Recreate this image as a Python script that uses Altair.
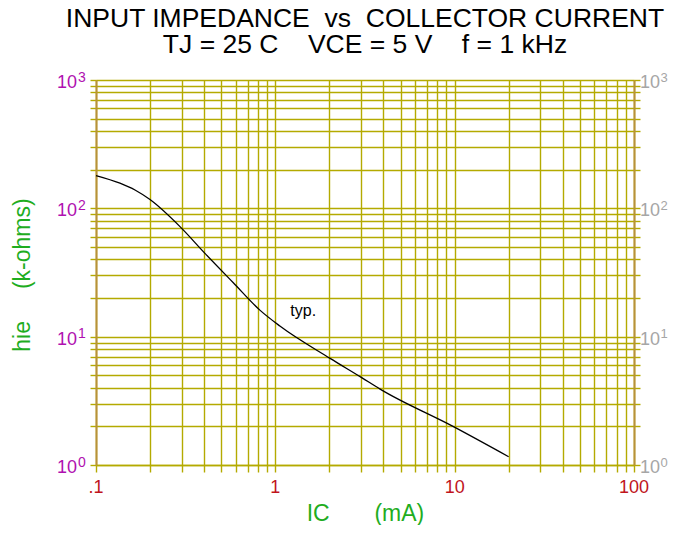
import altair as alt
import pandas as pd

# ---- data ----
ic_ma = [0.1, 0.136, 0.165, 0.2, 0.294, 0.405, 0.583, 0.82, 1.06, 2.02, 3.03, 3.84, 9.85, 20]
hie_kohm = [180, 157, 139, 117, 72, 44.6, 26.3, 16.1, 12.1, 6.78, 4.8, 3.9, 1.99, 1.16]

x_tick_values = [0.1, 1, 10, 100]
x_tick_labels = [".1", "1", "10", "100"]
y_tick_values = [1, 10, 100, 1000]
y_tick_base = ["10", "10", "10", "10"]
y_tick_exp = ["0", "1", "2", "3"]

x_grid = [m * 10.0 ** e for e in (-1, 0, 1) for m in range(1, 10)] + [100]
y_grid = [m * 10.0 ** e for e in (0, 1, 2) for m in range(1, 10)] + [1000]

annot_x = [1.43]
annot_y = [15.9]
annot_text = ["typ."]

FONT = "Liberation Sans"
OLIVE = "#b4aa00"
BROWN = "#b8913a"
NB = "\u00a0"

W, H = 538, 385

curve = pd.DataFrame({"ic": ic_ma, "hie": hie_kohm})
xlab = pd.DataFrame({"x": x_tick_values, "t": x_tick_labels})
ylab = pd.DataFrame({"y": y_tick_values, "b": y_tick_base, "e": y_tick_exp})
ann = pd.DataFrame({"x": annot_x, "y": annot_y, "t": annot_text})

xscale = alt.Scale(type="log", domain=[0.1, 100], nice=False)
yscale = alt.Scale(type="log", domain=[1, 1000], nice=False)

x_axis = alt.Axis(
    values=x_grid, labels=False, grid=True, gridColor=OLIVE, gridWidth=1.4, gridOpacity=1,
    ticks=True, tickColor=OLIVE, tickSize=7, tickWidth=1.4,
    domainColor=OLIVE, domainWidth=1.5,
    title="IC" + NB * 7 + "(mA)", titleColor="#1fad1f", titleFont=FONT, titleFontSize=23,
    titleFontWeight="normal", titleX=W / 2, titleY=55, titleBaseline="alphabetic", titleAlign="center",
)
y_axis_left = alt.Axis(
    values=y_grid, labels=False, grid=True, gridColor=OLIVE, gridWidth=1.4, gridOpacity=1,
    ticks=True, tickColor=OLIVE, tickSize=6, tickWidth=1.4,
    domainColor=BROWN, domainWidth=2,
    title="hie" + NB * 5 + "(k-ohms)", titleColor="#1fad1f", titleFont=FONT, titleFontSize=23,
    titleFontWeight="normal", titleX=-67, titleY=H / 2 + 2, titleAngle=270,
    titleBaseline="alphabetic", titleAlign="center",
)
y_axis_right = alt.Axis(
    orient="right", values=y_grid, labels=False, grid=False,
    ticks=True, tickColor=OLIVE, tickSize=6, tickWidth=1.4,
    domainColor=BROWN, domainWidth=2, title=None,
)

line = alt.Chart(curve).mark_line(color="black", strokeWidth=1.3, interpolate="monotone").encode(
    x=alt.X("ic:Q", scale=xscale, axis=x_axis),
    y=alt.Y("hie:Q", scale=yscale, axis=y_axis_left),
)

right_base = alt.Chart(ylab).mark_text(
    font=FONT, fontSize=18, color="#a6a6a6", align="left", baseline="alphabetic", dy=8
).encode(
    x=alt.value(W + 6),
    y=alt.Y("y:Q", scale=yscale, axis=y_axis_right),
    text="b:N",
)
right_exp = alt.Chart(ylab).mark_text(
    font=FONT, fontSize=13, color="#a6a6a6", align="left", baseline="alphabetic", dy=1.5
).encode(
    x=alt.value(W + 26.5),
    y=alt.Y("y:Q", scale=yscale, axis=None),
    text="e:N",
)
left_base = alt.Chart(ylab).mark_text(
    font=FONT, fontSize=18, color="#b010b0", align="right", baseline="alphabetic", dy=8
).encode(
    x=alt.value(-19),
    y=alt.Y("y:Q", scale=yscale, axis=None),
    text="b:N",
)
left_exp = alt.Chart(ylab).mark_text(
    font=FONT, fontSize=14, color="#b010b0", align="left", baseline="alphabetic", dy=1.5
).encode(
    x=alt.value(-18),
    y=alt.Y("y:Q", scale=yscale, axis=None),
    text="e:N",
)
bottom = alt.Chart(xlab).mark_text(
    font=FONT, fontSize=18, color="#c0141c", align="center", baseline="alphabetic"
).encode(
    x=alt.X("x:Q", scale=xscale, axis=x_axis),
    y=alt.value(H + 28),
    text="t:N",
)
note = alt.Chart(ann).mark_text(
    font=FONT, fontSize=16, color="black", align="center", baseline="middle"
).encode(
    x=alt.X("x:Q", scale=xscale, axis=x_axis),
    y=alt.Y("y:Q", scale=yscale, axis=None),
    text="t:N",
)

chart = alt.layer(line, right_base, right_exp, left_base, left_exp, bottom, note).resolve_axis(
    y="independent"
).properties(
    width=W, height=H,
    autosize=alt.AutoSizeParams(type="none"),
    padding={"left": 88, "top": 72, "right": 35, "bottom": 60},
    title=alt.TitleParams(
        text=["INPUT IMPEDANCE" + NB * 2 + "vs" + NB * 2 + "COLLECTOR CURRENT",
              "TJ = 25 C" + NB * 4 + "VCE = 5 V" + NB * 4 + "f = 1 kHz"],
        font=FONT, fontSize=26.5, fontWeight="normal", color="black",
        anchor="middle", lineHeight=26, offset=12,
    ),
).configure_view(stroke=None).configure(background="white")

chart.save("out.html", embed_options={"renderer": "svg", "actions": False})
